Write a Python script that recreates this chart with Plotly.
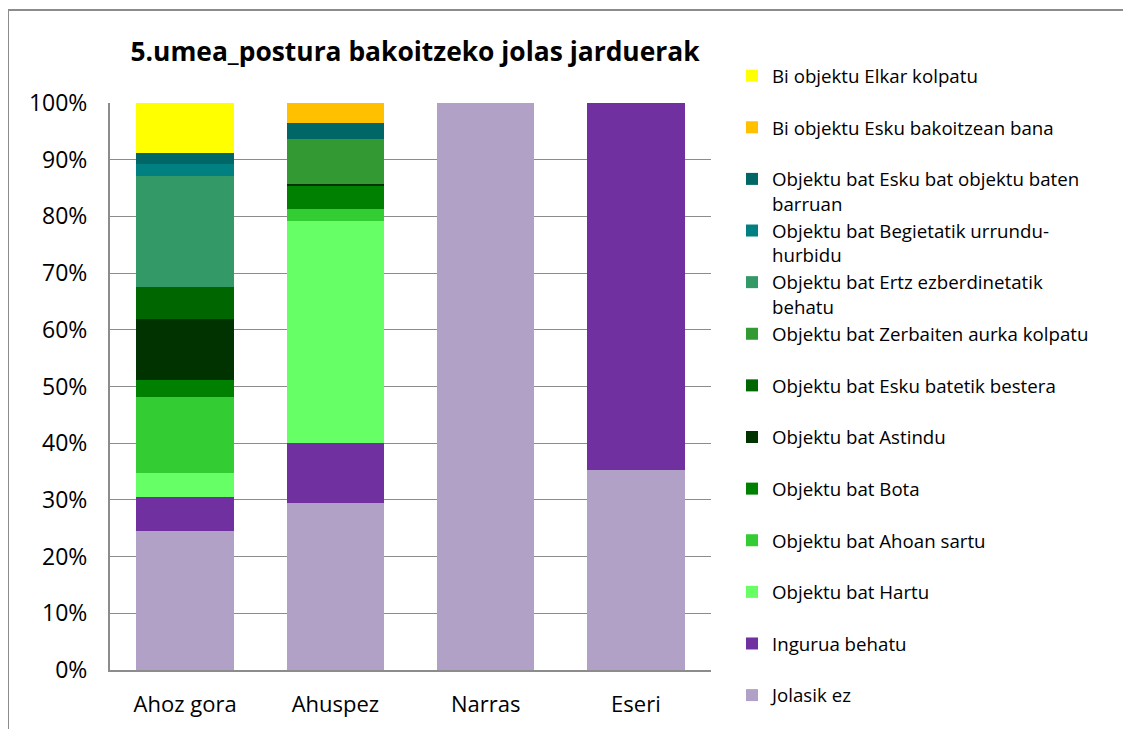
import plotly.graph_objects as go

categories = ["Ahoz gora", "Ahuspez", "Narras", "Eseri"]

# series in stacking order (bottom to top), values in %
jolasik_ez = [24.5, 29.4, 100.0, 35.3]
ingurua_behatu = [6.1, 10.6, 0, 64.7]
bat_hartu = [4.2, 39.2, 0, 0]
bat_ahoan_sartu = [13.3, 2.1, 0, 0]
bat_bota = [3.1, 4.0, 0, 0]
bat_astindu = [10.7, 0.4, 0, 0]
bat_esku_batetik = [5.7, 0, 0, 0]
bat_zerbaiten_aurka = [0, 7.9, 0, 0]
bat_ertz = [19.5, 0, 0, 0]
bat_begietatik = [2.2, 0, 0, 0]
bat_esku_barruan = [1.9, 2.8, 0, 0]
bi_esku_bakoitzean = [0, 3.6, 0, 0]
bi_elkar_kolpatu = [8.8, 0, 0, 0]

series = [
    ("Jolasik ez", jolasik_ez, "#B2A1C7"),
    ("Ingurua behatu", ingurua_behatu, "#7030A0"),
    ("Objektu bat Hartu", bat_hartu, "#66FF66"),
    ("Objektu bat Ahoan sartu", bat_ahoan_sartu, "#33CC33"),
    ("Objektu bat Bota", bat_bota, "#008000"),
    ("Objektu bat Astindu", bat_astindu, "#003300"),
    ("Objektu bat Esku batetik bestera", bat_esku_batetik, "#006600"),
    ("Objektu bat Zerbaiten aurka kolpatu", bat_zerbaiten_aurka, "#339933"),
    ("Objektu bat Ertz ezberdinetatik<br>behatu", bat_ertz, "#339966"),
    ("Objektu bat Begietatik urrundu-<br>hurbidu", bat_begietatik, "#008080"),
    ("Objektu bat Esku bat objektu baten<br>barruan", bat_esku_barruan, "#006666"),
    ("Bi objektu Esku bakoitzean bana", bi_esku_bakoitzean, "#FFC000"),
    ("Bi objektu Elkar kolpatu", bi_elkar_kolpatu, "#FFFF00"),
]

# page body has an 8px margin, so the figure is drawn 8px smaller
W, H = 1123, 721
L, R, T, B = 102, 703, 95, 662   # plot area in figure pixels
pw, ph = R - L, B - T

fig = go.Figure()
for i, (name, vals, col) in enumerate(series):
    # every legend entry takes two lines so the spacing stays even
    label = name if ("<br>" in name or i == 0) else name + "<br> "
    fig.add_trace(go.Bar(
        x=categories, y=vals, name=label,
        marker=dict(color=col, line=dict(width=0)),
    ))

fig.update_layout(
    width=W, height=H,
    barmode="stack", bargap=0.35,
    paper_bgcolor="white", plot_bgcolor="white",
    margin=dict(l=L, r=W - R, t=T, b=H - B, autoexpand=False),
    font=dict(family="Open Sans", size=20, color="black"),
    title=dict(
        text="<b>5.umea_postura bakoitzeko jolas jarduerak</b>",
        font=dict(size=26.4, color="black"),
        x=(407 - L) / pw, xanchor="center", xref="paper",
        y=1 - 44 / H, yanchor="middle",
    ),
    legend=dict(
        traceorder="reversed", valign="top",
        x=(724 - L) / pw, xanchor="left",
        y=(B - 49) / ph, yanchor="top",
        maxheight=H,
        font=dict(size=18.7, color="black"),
        bgcolor="rgba(0,0,0,0)",
    ),
    showlegend=True,
)

fig.update_yaxes(
    range=[0, 100], dtick=10, ticksuffix="%",
    showgrid=True, gridcolor="#8C8C8C", gridwidth=1,
    showline=True, linecolor="#8C8C8C", linewidth=2,
    zeroline=False, ticks="", tickfont=dict(size=23),
    ticklabelstandoff=16,
)
fig.update_xaxes(
    showline=True, linecolor="#8C8C8C", linewidth=2,
    ticks="", tickfont=dict(size=22),
    ticklabelstandoff=14,
)

# outer chart border (runs past the picture edges)
fig.add_shape(type="line", xref="paper", yref="paper",
              x0=(0 - L) / pw, x1=(1140 - L) / pw,
              y0=(B - 2) / ph, y1=(B - 2) / ph,
              line=dict(color="#8C8C8C", width=2))
fig.add_shape(type="line", xref="paper", yref="paper",
              x0=(0 - L) / pw, x1=(0 - L) / pw,
              y0=(B - 2) / ph, y1=(B - 740) / ph,
              line=dict(color="#8C8C8C", width=2))

fig.write_html("out.html")
